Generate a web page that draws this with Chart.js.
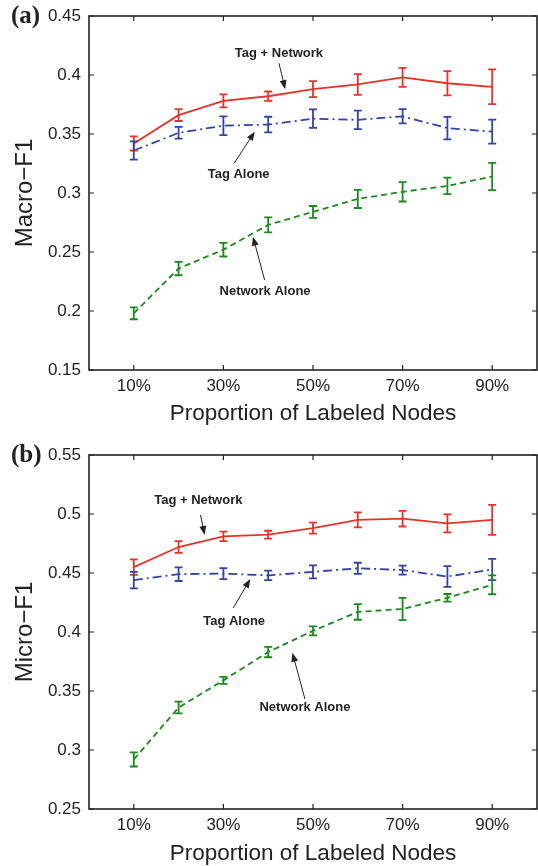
<!DOCTYPE html>
<html>
<head>
<meta charset="utf-8">
<script src="https://cdn.jsdelivr.net/npm/chart.js@4.4.1/dist/chart.umd.min.js"></script>
<style>
  html, body { margin: 0; padding: 0; background: #fff; overflow: hidden; }
  .panel { position: absolute; left: 0; width: 538px; height: 433px; }
</style>
</head>
<body>
<div class="panel" style="top:0"><canvas id="chartA"></canvas></div>
<div class="panel" style="top:433px"><canvas id="chartB"></canvas></div>
<script>
// proportion of labeled nodes (%)
const xValues = [10, 20, 30, 40, 50, 60, 70, 80, 90];
const xTickLabels = [10, 30, 50, 70, 90];

// (a) Macro-F1
const macroTicks = [0.15, 0.2, 0.25, 0.3, 0.35, 0.4, 0.45];
const macroTagNet = [0.342, 0.366, 0.378, 0.382, 0.388, 0.392, 0.398, 0.393, 0.390];
const macroTagNetErr = [0.006, 0.005, 0.0055, 0.004, 0.0068, 0.0088, 0.008, 0.0103, 0.0147];
const macroTagAlone = [0.336, 0.351, 0.357, 0.358, 0.363, 0.362, 0.365, 0.355, 0.352];
const macroTagAloneErr = [0.0077, 0.005, 0.008, 0.0066, 0.0078, 0.0078, 0.006, 0.0095, 0.0102];
const macroNetAlone = [0.198, 0.236, 0.252, 0.273, 0.284, 0.295, 0.301, 0.306, 0.314];
const macroNetAloneErr = [0.005, 0.0057, 0.0058, 0.0064, 0.005, 0.0077, 0.0082, 0.007, 0.0115];

// (b) Micro-F1
const microTicks = [0.25, 0.3, 0.35, 0.4, 0.45, 0.5, 0.55];
const microTagNet = [0.455, 0.472, 0.481, 0.4825, 0.488, 0.495, 0.496, 0.492, 0.495];
const microTagNetErr = [0.0066, 0.005, 0.004, 0.0033, 0.0047, 0.0063, 0.0066, 0.0076, 0.0127];
const microTagAlone = [0.444, 0.449, 0.4495, 0.448, 0.451, 0.454, 0.4525, 0.447, 0.453];
const microTagAloneErr = [0.007, 0.0058, 0.0047, 0.004, 0.0055, 0.0047, 0.0038, 0.0088, 0.009];
const microNetAlone = [0.292, 0.336, 0.359, 0.383, 0.401, 0.417, 0.4195, 0.429, 0.440];
const microNetAloneErr = [0.006, 0.005, 0.003, 0.0044, 0.0038, 0.0066, 0.0094, 0.0032, 0.008];

const RED = "#e3342a";
const BLUE = "#2f44a3";
const GREEN = "#1a8a1c";
const INK = "#222";

// label text + arrow (tail -> head), in data units
const macroNotes = [
  { text: "Tag + Network", tx: 42.4, ty: 0.4186, x1: 42.4, y1: 0.410, x2: 43.8, y2: 0.388 },
  { text: "Tag Alone", tx: 33.4, ty: 0.316, x1: 32.4, y1: 0.3252, x2: 37.0, y2: 0.352 },
  { text: "Network Alone", tx: 39.3, ty: 0.217, x1: 39.2, y1: 0.2263, x2: 36.6, y2: 0.263 }
];
const microNotes = [
  { text: "Tag + Network", tx: 24.4, ty: 0.5119, x1: 24.9, y1: 0.4992, x2: 25.8, y2: 0.4822 },
  { text: "Tag Alone", tx: 32.4, ty: 0.4087, x1: 32.2, y1: 0.4203, x2: 36.0, y2: 0.4449 },
  { text: "Network Alone", tx: 48.2, ty: 0.3364, x1: 48.2, y1: 0.3432, x2: 45.4, y2: 0.3825 }
];

const toPoints = (vals) => xValues.map((x, i) => ({ x, y: vals[i] }));

const errorBars = {
  id: "errorBars",
  afterDatasetsDraw(chart) {
    const { ctx, scales: { x, y } } = chart;
    ctx.save();
    ctx.lineWidth = 1.8;
    ctx.setLineDash([]);
    chart.data.datasets.forEach((ds) => {
      ctx.strokeStyle = ds.borderColor;
      ds.data.forEach((p, i) => {
        const px = x.getPixelForValue(p.x);
        const top = y.getPixelForValue(p.y + ds.errors[i]);
        const bot = y.getPixelForValue(p.y - ds.errors[i]);
        ctx.beginPath();
        ctx.moveTo(px, top); ctx.lineTo(px, bot);
        ctx.moveTo(px - 4, top); ctx.lineTo(px + 4, top);
        ctx.moveTo(px - 4, bot); ctx.lineTo(px + 4, bot);
        ctx.stroke();
      });
    });
    ctx.restore();
  }
};

const frame = {
  id: "frame",
  afterDraw(chart, args, opts) {
    const { ctx, chartArea: a, scales: { x, y } } = chart;
    ctx.save();
    ctx.strokeStyle = INK;
    ctx.lineWidth = 1.6;
    ctx.strokeRect(a.left, a.top, a.right - a.left, a.bottom - a.top);
    ctx.lineWidth = 1.2;
    ctx.beginPath();
    x.ticks.forEach((t) => {
      const px = x.getPixelForValue(t.value);
      ctx.moveTo(px, a.bottom); ctx.lineTo(px, a.bottom - 5);
      ctx.moveTo(px, a.top); ctx.lineTo(px, a.top + 5);
    });
    y.ticks.forEach((t) => {
      const py = y.getPixelForValue(t.value);
      ctx.moveTo(a.left, py); ctx.lineTo(a.left + 5, py);
      ctx.moveTo(a.right, py); ctx.lineTo(a.right - 5, py);
    });
    ctx.stroke();

    // panel letter
    ctx.fillStyle = INK;
    ctx.font = "bold 25px 'Liberation Serif'";
    ctx.textAlign = "left";
    ctx.textBaseline = "alphabetic";
    ctx.fillText(opts.letter, 11, a.top + 7);

    // annotations
    ctx.font = "bold 13px 'Liberation Sans'";
    ctx.textAlign = "center";
    ctx.textBaseline = "middle";
    opts.notes.forEach((n) => {
      ctx.fillText(n.text, x.getPixelForValue(n.tx), y.getPixelForValue(n.ty));
      const x1 = x.getPixelForValue(n.x1), y1 = y.getPixelForValue(n.y1);
      const x2 = x.getPixelForValue(n.x2), y2 = y.getPixelForValue(n.y2);
      const ang = Math.atan2(y2 - y1, x2 - x1);
      ctx.lineWidth = 1;
      ctx.beginPath();
      ctx.moveTo(x1, y1);
      ctx.lineTo(x2 - 6 * Math.cos(ang), y2 - 6 * Math.sin(ang));
      ctx.stroke();
      ctx.beginPath();
      ctx.moveTo(x2, y2);
      ctx.lineTo(x2 - 9 * Math.cos(ang) + 3.5 * Math.sin(ang), y2 - 9 * Math.sin(ang) - 3.5 * Math.cos(ang));
      ctx.lineTo(x2 - 9 * Math.cos(ang) - 3.5 * Math.sin(ang), y2 - 9 * Math.sin(ang) + 3.5 * Math.cos(ang));
      ctx.closePath();
      ctx.fill();
    });
    ctx.restore();
  }
};

function makeChart(id, cfg) {
  const series = (label, vals, errs, color, dash) => ({
    label,
    data: toPoints(vals),
    errors: errs,
    borderColor: color,
    borderWidth: 1.8,
    borderDash: dash,
    pointRadius: 0,
    tension: 0,
    fill: false
  });
  const tickFont = { family: "'Liberation Sans'", size: 17 };
  return new Chart(document.getElementById(id), {
    type: "line",
    data: {
      datasets: [
        series("Tag + Network", cfg.tagNet, cfg.tagNetErr, RED, []),
        series("Tag Alone", cfg.tagAlone, cfg.tagAloneErr, BLUE, [9, 4, 2, 4]),
        series("Network Alone", cfg.netAlone, cfg.netAloneErr, GREEN, [6, 4])
      ]
    },
    plugins: [errorBars, frame],
    options: {
      responsive: true,
      maintainAspectRatio: false,
      animation: false,
      layout: { padding: { top: cfg.padTop, right: 1, left: 0, bottom: 0 } },
      plugins: {
        legend: { display: false },
        tooltip: { enabled: false },
        frame: { letter: cfg.letter, notes: cfg.notes }
      },
      scales: {
        x: {
          type: "linear",
          min: 0,
          max: 100,
          afterBuildTicks: (s) => { s.ticks = xTickLabels.map((v) => ({ value: v })); },
          afterFit: (s) => { s.height = 433 - cfg.padTop - 354; },
          grid: { display: false },
          border: { display: false },
          ticks: {
            color: INK,
            font: tickFont,
            padding: -2,
            maxRotation: 0,
            callback: (v) => v + "%"
          },
          title: {
            display: true,
            text: "Proportion of Labeled Nodes",
            color: INK,
            font: { family: "'Liberation Sans'", size: 22.5, lineHeight: 1.2 },
            padding: { top: 0, bottom: cfg.titlePad }
          }
        },
        y: {
          type: "linear",
          min: cfg.ticks[0],
          max: cfg.ticks[cfg.ticks.length - 1],
          afterBuildTicks: (s) => { s.ticks = cfg.ticks.map((v) => ({ value: v })); },
          afterFit: (s) => { s.width = 89; },
          grid: { display: false },
          border: { display: false },
          ticks: {
            color: INK,
            font: tickFont,
            padding: 0,
            callback: (v) => String(Number(v.toFixed(2)))
          },
          title: {
            display: true,
            text: cfg.yTitle,
            color: INK,
            font: { family: "'Liberation Sans'", size: 24, lineHeight: 1.2 },
            padding: { top: 11, bottom: 0 }
          }
        }
      }
    }
  });
}

makeChart("chartA", {
  letter: "(a)", yTitle: "Macro\u2212F1", ticks: macroTicks, notes: macroNotes,
  padTop: 16, titlePad: 6,
  tagNet: macroTagNet, tagNetErr: macroTagNetErr,
  tagAlone: macroTagAlone, tagAloneErr: macroTagAloneErr,
  netAlone: macroNetAlone, netAloneErr: macroNetAloneErr
});

makeChart("chartB", {
  letter: "(b)", yTitle: "Micro\u2212F1", ticks: microTicks, notes: microNotes,
  padTop: 22, titlePad: -1,
  tagNet: microTagNet, tagNetErr: microTagNetErr,
  tagAlone: microTagAlone, tagAloneErr: microTagAloneErr,
  netAlone: microNetAlone, netAloneErr: microNetAloneErr
});
</script>
</body>
</html>
